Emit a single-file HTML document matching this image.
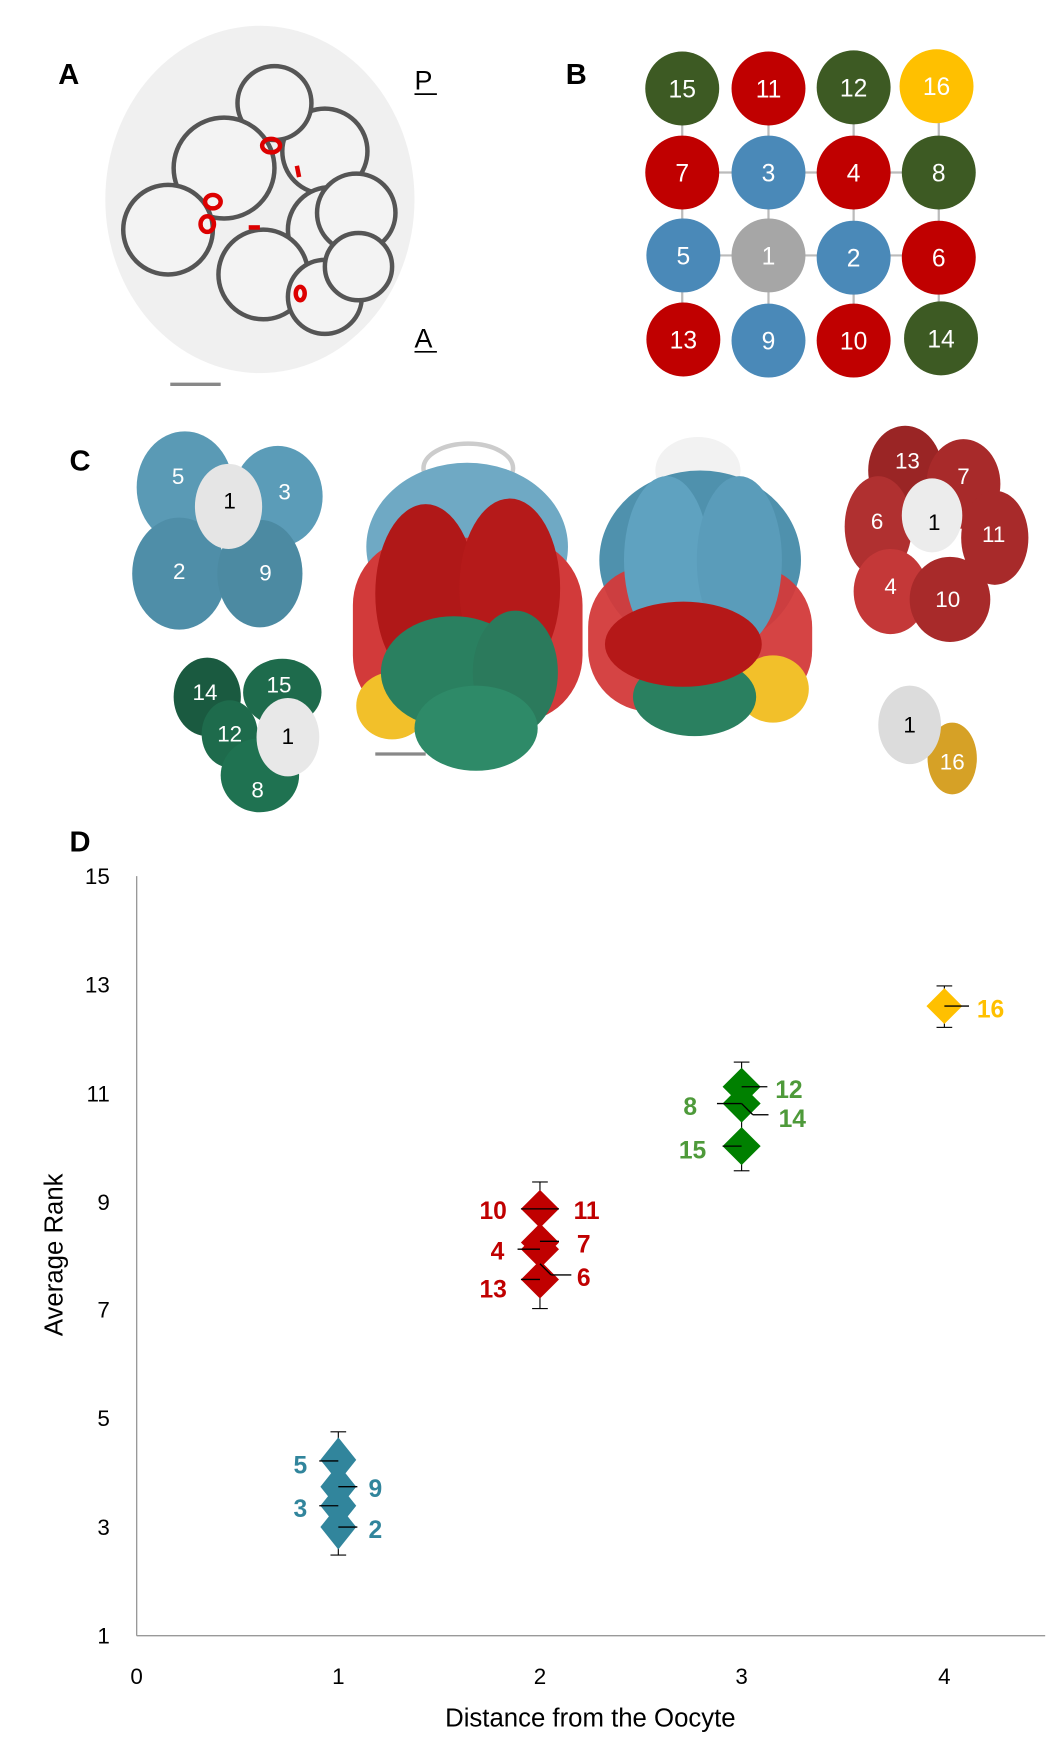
<!DOCTYPE html>
<html><head><meta charset="utf-8"><style>
html,body{margin:0;padding:0;background:#fff;}
svg{display:block;}
text{font-family:"Liberation Sans",sans-serif;}
</style></head><body>
<svg width="1062" height="1750" viewBox="0 0 948 1562" preserveAspectRatio="none" xmlns="http://www.w3.org/2000/svg">
<rect width="948" height="1562" fill="#fff"/>
<!-- Panel A -->
<text x="52" y="75" font-size="26" font-weight="bold">A</text>
<ellipse cx="232" cy="178" rx="138" ry="155" fill="#e6e6e6" opacity="0.6"/>
<g fill="#f4f4f4" stroke="#3a3a3a" stroke-width="4" opacity="0.85">
<circle cx="290" cy="135" r="38"/><circle cx="245" cy="92" r="33"/><circle cx="200" cy="150" r="45"/>
<circle cx="150" cy="205" r="40"/><circle cx="295" cy="205" r="38"/><circle cx="318" cy="190" r="35"/>
<circle cx="235" cy="245" r="40"/><circle cx="290" cy="265" r="33"/><circle cx="320" cy="238" r="30"/>
</g>
<g fill="none" stroke="#d00" stroke-width="4">
<ellipse cx="242" cy="130" rx="8" ry="6"/><ellipse cx="190" cy="180" rx="7" ry="6"/><ellipse cx="185" cy="200" rx="6" ry="7"/>
<line x1="222" y1="203" x2="232" y2="203"/><ellipse cx="268" cy="262" rx="4" ry="6"/><line x1="265" y1="148" x2="267" y2="158"/>
</g>
<line x1="152" y1="343" x2="197" y2="343" stroke="#888" stroke-width="3"/>
<text x="370" y="80" font-size="24">P</text><line x1="370" y1="84" x2="390" y2="84" stroke="#000" stroke-width="1.5"/>
<text x="370" y="310" font-size="24">A</text><line x1="370" y1="314" x2="390" y2="314" stroke="#000" stroke-width="1.5"/>
<!-- Panel B -->
<text x="505" y="75" font-size="26" font-weight="bold">B</text>
<g stroke="#bbb" stroke-width="2">
<line x1="609" y1="78" x2="609" y2="303"/><line x1="686" y1="78" x2="686" y2="303"/><line x1="762" y1="78" x2="762" y2="303"/><line x1="838" y1="78" x2="838" y2="303"/>
<line x1="609" y1="154" x2="838" y2="154"/><line x1="609" y1="228" x2="838" y2="228"/>
</g>
<g font-size="22" fill="#fff" text-anchor="middle">
<circle cx="609" cy="79" r="33" fill="#3d5a23"/><text x="609" y="87">15</text>
<circle cx="686" cy="79" r="33" fill="#c00000"/><text x="686" y="87">11</text>
<circle cx="762" cy="78" r="33" fill="#3d5a23"/><text x="762" y="86">12</text>
<circle cx="836" cy="77" r="33" fill="#ffc000"/><text x="836" y="85">16</text>
<circle cx="609" cy="154" r="33" fill="#c00000"/><text x="609" y="162">7</text>
<circle cx="686" cy="154" r="33" fill="#4a89b8"/><text x="686" y="162">3</text>
<circle cx="762" cy="154" r="33" fill="#c00000"/><text x="762" y="162">4</text>
<circle cx="838" cy="154" r="33" fill="#3d5a23"/><text x="838" y="162">8</text>
<circle cx="610" cy="228" r="33" fill="#4a89b8"/><text x="610" y="236">5</text>
<circle cx="686" cy="228" r="33" fill="#a6a6a6"/><text x="686" y="236">1</text>
<circle cx="762" cy="230" r="33" fill="#4a89b8"/><text x="762" y="238">2</text>
<circle cx="838" cy="230" r="33" fill="#c00000"/><text x="838" y="238">6</text>
<circle cx="610" cy="303" r="33" fill="#c00000"/><text x="610" y="311">13</text>
<circle cx="686" cy="304" r="33" fill="#4a89b8"/><text x="686" y="312">9</text>
<circle cx="762" cy="304" r="33" fill="#c00000"/><text x="762" y="312">10</text>
<circle cx="840" cy="302" r="33" fill="#3d5a23"/><text x="840" y="310">14</text>
</g>
<!-- Panel C -->
<text x="62" y="420" font-size="26" font-weight="bold">C</text>
<g fill="#5a9ab5">
<ellipse cx="165" cy="435" rx="43" ry="50"/><ellipse cx="248" cy="443" rx="40" ry="45" fill="#5b9cb8"/>
<ellipse cx="160" cy="512" rx="42" ry="50" fill="#4f8ea8"/><ellipse cx="232" cy="512" rx="38" ry="48" fill="#4c8aa2"/>
</g>
<ellipse cx="204" cy="452" rx="30" ry="38" fill="#e5e5e5"/>
<g font-size="20" fill="#fff" text-anchor="middle"><text x="159" y="432">5</text><text x="254" y="446">3</text><text x="160" y="517">2</text><text x="237" y="518">9</text></g>
<text x="205" y="454" font-size="20" text-anchor="middle">1</text>
<g fill="#1e6b4c"><ellipse cx="185" cy="622" rx="30" ry="35" fill="#1a5a40"/><ellipse cx="252" cy="618" rx="35" ry="30"/>
<ellipse cx="205" cy="655" rx="25" ry="30"/><ellipse cx="232" cy="692" rx="35" ry="33" fill="#1f7251"/></g>
<ellipse cx="257" cy="658" rx="28" ry="35" fill="#e8e8e8"/>
<g font-size="20" fill="#fff" text-anchor="middle"><text x="183" y="625">14</text><text x="249" y="618">15</text><text x="205" y="662">12</text><text x="230" y="712">8</text></g>
<text x="257" y="664" font-size="20" text-anchor="middle">1</text>
<!-- left embryo -->
<ellipse cx="418" cy="418" rx="40" ry="22" fill="none" stroke="#ccc" stroke-width="4"/>
<ellipse cx="417" cy="488" rx="90" ry="75" fill="#6fa9c4"/>
<rect x="315" y="480" width="205" height="165" rx="60" fill="#d23a3a"/>
<ellipse cx="380" cy="530" rx="45" ry="80" fill="#b01818"/><ellipse cx="455" cy="525" rx="45" ry="80" fill="#b51a1a"/>
<ellipse cx="350" cy="630" rx="32" ry="30" fill="#f2c02a"/>
<ellipse cx="405" cy="600" rx="65" ry="50" fill="#2a8060"/><ellipse cx="460" cy="600" rx="38" ry="55" fill="#2b7a5c"/>
<ellipse cx="425" cy="650" rx="55" ry="38" fill="#2e8a68"/>
<line x1="335" y1="673" x2="380" y2="673" stroke="#888" stroke-width="3"/>
<!-- right embryo -->
<ellipse cx="623" cy="420" rx="38" ry="30" fill="#f2f2f2"/>
<ellipse cx="625" cy="500" rx="90" ry="80" fill="#4f91ad"/>
<rect x="525" y="505" width="200" height="130" rx="55" fill="#d33a3a" opacity="0.95"/>
<ellipse cx="595" cy="500" rx="38" ry="75" fill="#5fa2c0"/><ellipse cx="660" cy="500" rx="38" ry="75" fill="#5a9cba"/>
<ellipse cx="690" cy="615" rx="32" ry="30" fill="#f2c02a"/>
<ellipse cx="620" cy="622" rx="55" ry="35" fill="#2a8060"/>
<ellipse cx="610" cy="575" rx="70" ry="38" fill="#b51818"/>
<!-- red cluster -->
<g fill="#a82a2a"><ellipse cx="808" cy="420" rx="33" ry="40" fill="#9a2525"/><ellipse cx="860" cy="432" rx="33" ry="40"/>
<ellipse cx="784" cy="470" rx="30" ry="45" fill="#b03030"/><ellipse cx="888" cy="480" rx="30" ry="42"/>
<ellipse cx="795" cy="528" rx="33" ry="38" fill="#c43838"/><ellipse cx="848" cy="535" rx="36" ry="38"/></g>
<ellipse cx="832" cy="460" rx="27" ry="33" fill="#ececec"/>
<g font-size="20" fill="#fff" text-anchor="middle"><text x="810" y="418">13</text><text x="860" y="432">7</text><text x="783" y="472">6</text><text x="887" y="484">11</text><text x="795" y="530">4</text><text x="846" y="542">10</text></g>
<text x="834" y="473" font-size="20" text-anchor="middle">1</text>
<ellipse cx="850" cy="677" rx="22" ry="32" fill="#d6a126"/>
<ellipse cx="812" cy="647" rx="28" ry="35" fill="#dcdcdc"/>
<text x="812" y="654" font-size="20" text-anchor="middle">1</text>
<text x="850" y="687" font-size="20" fill="#fff" text-anchor="middle">16</text>
<!-- Panel D -->
<text x="62" y="760" font-size="26" font-weight="bold">D</text>
<line x1="122" y1="782" x2="122" y2="1460" stroke="#999" stroke-width="1.2"/>
<line x1="122" y1="1460" x2="933" y2="1460" stroke="#999" stroke-width="1.2"/>
<g font-size="20" text-anchor="end">
<text x="98" y="789">15</text><text x="98" y="886">13</text><text x="98" y="983">11</text><text x="98" y="1080">9</text>
<text x="98" y="1176">7</text><text x="98" y="1273">5</text><text x="98" y="1370">3</text><text x="98" y="1467">1</text>
</g>
<g font-size="20" text-anchor="middle">
<text x="122" y="1503">0</text><text x="302" y="1503">1</text><text x="482" y="1503">2</text><text x="662" y="1503">3</text><text x="843" y="1503">4</text>
</g>
<text x="527" y="1541" font-size="23" text-anchor="middle">Distance from the Oocyte</text>
<text transform="translate(56,1120) rotate(-90)" font-size="23" text-anchor="middle">Average Rank</text>
<!-- error bars -->
<g stroke="#000" stroke-width="1">
<line x1="302" y1="1278" x2="302" y2="1388"/><line x1="295" y1="1278" x2="309" y2="1278"/><line x1="295" y1="1388" x2="309" y2="1388"/>
<line x1="482" y1="1055" x2="482" y2="1168"/><line x1="475" y1="1055" x2="489" y2="1055"/><line x1="475" y1="1168" x2="489" y2="1168"/>
<line x1="662" y1="948" x2="662" y2="1045"/><line x1="655" y1="948" x2="669" y2="948"/><line x1="655" y1="1045" x2="669" y2="1045"/>
<line x1="843" y1="880" x2="843" y2="917"/><line x1="836" y1="880" x2="850" y2="880"/><line x1="836" y1="917" x2="850" y2="917"/>
</g>
<!-- diamonds -->
<g fill="#31859c">
<path d="M302 1283 l16 20 l-16 20 l-16 -20z"/><path d="M302 1307 l16 20 l-16 20 l-16 -20z"/>
<path d="M302 1324 l16 20 l-16 20 l-16 -20z"/><path d="M302 1343 l16 20 l-16 20 l-16 -20z"/>
</g>
<g fill="#c00000">
<path d="M482 1062 l17 17 l-17 17 l-17 -17z"/><path d="M482 1092 l17 17 l-17 17 l-17 -17z"/>
<path d="M482 1098 l17 17 l-17 17 l-17 -17z"/><path d="M482 1125 l17 17 l-17 17 l-17 -17z"/>
</g>
<g fill="#008000">
<path d="M662 953 l17 17 l-17 17 l-17 -17z"/><path d="M662 968 l17 17 l-17 17 l-17 -17z"/>
<path d="M662 1006 l17 17 l-17 17 l-17 -17z"/>
</g>
<path d="M843 882 l16 16 l-16 16 l-16 -16z" fill="#ffc000"/>
<!-- point ticks -->
<g stroke="#000" stroke-width="1.2">
<line x1="285" y1="1304" x2="302" y2="1304"/><line x1="302" y1="1327" x2="319" y2="1327"/>
<line x1="285" y1="1344" x2="302" y2="1344"/><line x1="302" y1="1363" x2="319" y2="1363"/>
<line x1="465" y1="1079" x2="499" y2="1079"/><line x1="482" y1="1108" x2="499" y2="1108"/>
<line x1="462" y1="1115" x2="482" y2="1115"/><line x1="482" y1="1128" x2="492" y2="1138"/><line x1="492" y1="1138" x2="510" y2="1138"/>
<line x1="465" y1="1142" x2="482" y2="1142"/>
<line x1="662" y1="970" x2="685" y2="970"/><line x1="640" y1="985" x2="662" y2="985"/>
<line x1="662" y1="985" x2="672" y2="995"/><line x1="672" y1="995" x2="686" y2="995"/>
<line x1="645" y1="1023" x2="662" y2="1023"/><line x1="843" y1="898" x2="865" y2="898"/>
</g>
<g font-size="22" font-weight="bold">
<g fill="#31859c"><text x="262" y="1315">5</text><text x="329" y="1336">9</text><text x="262" y="1354">3</text><text x="329" y="1373">2</text></g>
<g fill="#c00000"><text x="428" y="1088">10</text><text x="512" y="1088">11</text><text x="515" y="1118">7</text><text x="438" y="1124">4</text><text x="515" y="1148">6</text><text x="428" y="1158">13</text></g>
<g fill="#4e9a3a"><text x="692" y="980">12</text><text x="610" y="995">8</text><text x="695" y="1006">14</text><text x="606" y="1034">15</text></g>
<text x="872" y="908" fill="#ffc000">16</text>
</g>
</svg>
</body></html>
